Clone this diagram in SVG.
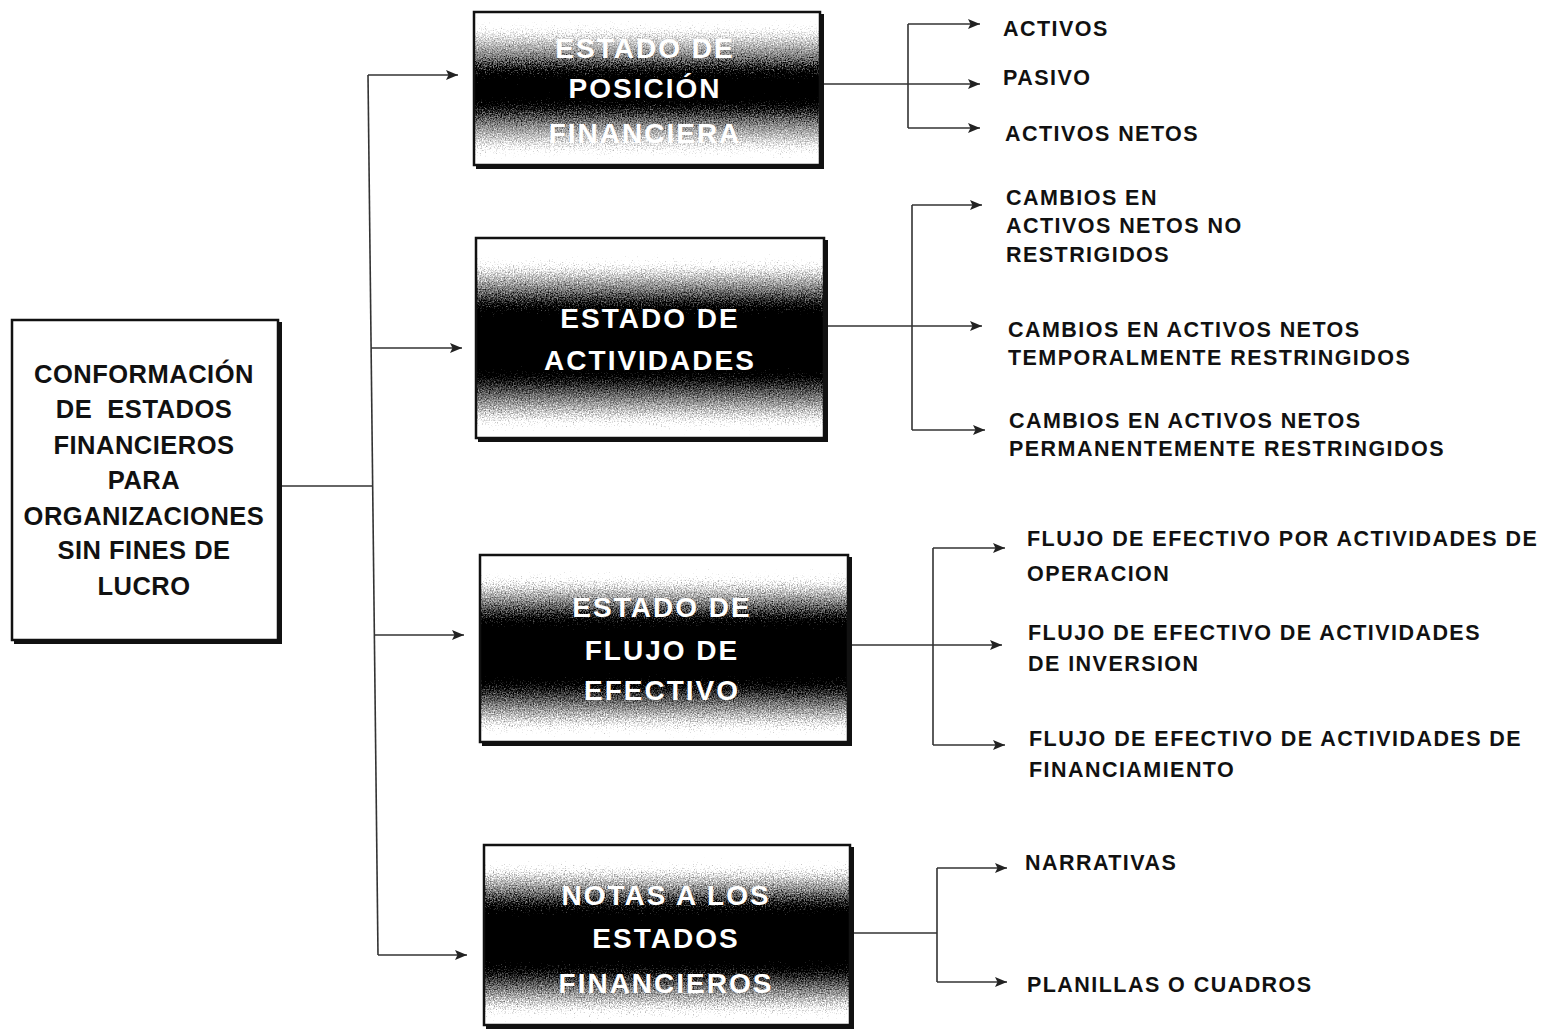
<svg xmlns="http://www.w3.org/2000/svg" width="1543" height="1029" viewBox="0 0 1543 1029">
<style>
  .box { fill: none; stroke: #111; stroke-width: 2.5; }
  .shadow { fill: none; stroke: #111; stroke-width: 4; }
  .lt { font-family: "Liberation Sans", Arial, sans-serif; font-weight: bold; font-size: 25.5px; fill: #111; text-anchor: middle; letter-spacing: 0.5px; }
  .bt { font-family: "Liberation Sans", Arial, sans-serif; font-weight: bold; font-size: 28px; fill: #fff; text-anchor: middle; letter-spacing: 2px; }
  .rt { font-family: "Liberation Sans", Arial, sans-serif; font-weight: bold; font-size: 21.5px; fill: #111; letter-spacing: 1.45px; }
  .ln { fill: none; stroke: #333; stroke-width: 1.6; }
  .ar { fill: none; stroke: #333; stroke-width: 1.6; marker-end: url(#ah); }
</style>
<defs>
  <marker id="ah" markerUnits="userSpaceOnUse" markerWidth="13" markerHeight="11" refX="12" refY="5.5" orient="auto">
    <path d="M0,0.5 L12,5.5 L0,10.5 L2.5,5.5 z" fill="#222"/>
  </marker>
  <filter id="grain" x="-5%" y="-5%" width="110%" height="110%">
    <feTurbulence type="fractalNoise" baseFrequency="0.75" numOctaves="2" seed="7" result="t"/>
    <feDisplacementMap in="SourceGraphic" in2="t" scale="42" xChannelSelector="R" yChannelSelector="G"/>
  </filter>
  <linearGradient id="g1" x1="0" y1="0" x2="0" y2="1">
    <stop offset="0" stop-color="#fff"/>
    <stop offset="0.12" stop-color="#fff"/>
    <stop offset="0.3" stop-color="#777"/>
    <stop offset="0.38" stop-color="#000"/>
    <stop offset="0.62" stop-color="#000"/>
    <stop offset="0.72" stop-color="#777"/>
    <stop offset="0.9" stop-color="#fff"/>
    <stop offset="1" stop-color="#fff"/>
  </linearGradient>
  <linearGradient id="g2" x1="0" y1="0" x2="0" y2="1">
    <stop offset="0" stop-color="#fff"/>
    <stop offset="0.14" stop-color="#fff"/>
    <stop offset="0.26" stop-color="#777"/>
    <stop offset="0.34" stop-color="#000"/>
    <stop offset="0.7" stop-color="#000"/>
    <stop offset="0.8" stop-color="#777"/>
    <stop offset="0.92" stop-color="#fff"/>
    <stop offset="1" stop-color="#fff"/>
  </linearGradient>
  <clipPath id="c1"><rect x="475" y="13" width="344" height="151"/></clipPath>
  <clipPath id="c2"><rect x="477" y="239" width="347" height="198"/></clipPath>
  <clipPath id="c3"><rect x="481" y="556" width="366" height="185"/></clipPath>
  <clipPath id="c4"><rect x="485" y="846" width="365" height="178"/></clipPath>
</defs>
<rect width="1543" height="1029" fill="#fff"/>

<g id="connectors">
  <path class="ln" d="M278,486 H373"/>
  <path class="ln" d="M368,75 L378,955"/>
  <path class="ar" d="M368,75 H458"/>
  <path class="ar" d="M371,348 H462"/>
  <path class="ar" d="M374,635 H464"/>
  <path class="ar" d="M378,955 H467"/>

  <path class="ar" d="M820,84 H980"/>
  <path class="ln" d="M908,24 V128"/>
  <path class="ar" d="M908,24 H980"/>
  <path class="ar" d="M908,128 H980"/>

  <path class="ar" d="M824,326 H982"/>
  <path class="ln" d="M912,205 V430"/>
  <path class="ar" d="M912,205 H982"/>
  <path class="ar" d="M912,430 H985"/>

  <path class="ar" d="M848,645 H1002"/>
  <path class="ln" d="M933,548 V745"/>
  <path class="ar" d="M933,548 H1005"/>
  <path class="ar" d="M933,745 H1005"/>

  <path class="ln" d="M850,933 H937"/>
  <path class="ln" d="M937,868 V982"/>
  <path class="ar" d="M937,868 H1007"/>
  <path class="ar" d="M937,982 H1007"/>
</g>

<g id="root">
  <rect class="box" x="12" y="320" width="266" height="320" fill="#fff"/>
  <path class="shadow" d="M280,322 V642 H14"/>
  <text class="lt" x="144" y="383">CONFORMACIÓN</text>
  <text class="lt" x="144" y="418" xml:space="preserve">DE  ESTADOS</text>
  <text class="lt" x="144" y="454">FINANCIEROS</text>
  <text class="lt" x="144" y="489">PARA</text>
  <text class="lt" x="144" y="525">ORGANIZACIONES</text>
  <text class="lt" x="144" y="559">SIN FINES DE</text>
  <text class="lt" x="144" y="595">LUCRO</text>
</g>

<g id="n1">
  <g clip-path="url(#c1)"><rect x="460" y="13" width="374" height="151" fill="url(#g1)" filter="url(#grain)"/></g>
  <rect class="box" x="474" y="12" width="346" height="153"/>
  <path class="shadow" d="M822,14 V167 H476"/>
  <text class="bt" x="645" y="58">ESTADO DE</text>
  <text class="bt" x="645" y="98">POSICIÓN</text>
  <text class="bt" x="645" y="143">FINANCIERA</text>
</g>

<g id="n2">
  <g clip-path="url(#c2)"><rect x="462" y="239" width="377" height="198" fill="url(#g2)" filter="url(#grain)"/></g>
  <rect class="box" x="476" y="238" width="348" height="200"/>
  <path class="shadow" d="M826,240 V440 H478"/>
  <text class="bt" x="650" y="328">ESTADO DE</text>
  <text class="bt" x="650" y="370">ACTIVIDADES</text>
</g>

<g id="n3">
  <g clip-path="url(#c3)"><rect x="466" y="556" width="396" height="185" fill="url(#g2)" filter="url(#grain)"/></g>
  <rect class="box" x="480" y="555" width="368" height="187"/>
  <path class="shadow" d="M850,557 V744 H482"/>
  <text class="bt" x="662" y="617">ESTADO DE</text>
  <text class="bt" x="662" y="660">FLUJO DE</text>
  <text class="bt" x="662" y="700">EFECTIVO</text>
</g>

<g id="n4">
  <g clip-path="url(#c4)"><rect x="470" y="846" width="395" height="178" fill="url(#g2)" filter="url(#grain)"/></g>
  <rect class="box" x="484" y="845" width="366" height="180"/>
  <path class="shadow" d="M852,847 V1027 H486"/>
  <text class="bt" x="666" y="905">NOTAS A LOS</text>
  <text class="bt" x="666" y="948">ESTADOS</text>
  <text class="bt" x="666" y="993">FINANCIEROS</text>
</g>

<g id="leaves">
  <text class="rt" x="1003" y="36">ACTIVOS</text>
  <text class="rt" x="1003" y="85">PASIVO</text>
  <text class="rt" x="1005" y="141">ACTIVOS NETOS</text>
  <text class="rt" x="1006" y="205">CAMBIOS EN</text>
  <text class="rt" x="1006" y="233">ACTIVOS NETOS NO</text>
  <text class="rt" x="1006" y="262">RESTRIGIDOS</text>
  <text class="rt" x="1008" y="337">CAMBIOS EN ACTIVOS NETOS</text>
  <text class="rt" x="1008" y="365">TEMPORALMENTE RESTRINGIDOS</text>
  <text class="rt" x="1009" y="428">CAMBIOS EN ACTIVOS NETOS</text>
  <text class="rt" x="1009" y="456">PERMANENTEMENTE RESTRINGIDOS</text>
  <text class="rt" x="1027" y="546">FLUJO DE EFECTIVO POR ACTIVIDADES DE</text>
  <text class="rt" x="1027" y="581">OPERACION</text>
  <text class="rt" x="1028" y="640">FLUJO DE EFECTIVO DE ACTIVIDADES</text>
  <text class="rt" x="1028" y="671">DE INVERSION</text>
  <text class="rt" x="1029" y="746">FLUJO DE EFECTIVO DE ACTIVIDADES DE</text>
  <text class="rt" x="1029" y="777">FINANCIAMIENTO</text>
  <text class="rt" x="1025" y="870">NARRATIVAS</text>
  <text class="rt" x="1027" y="992">PLANILLAS O CUADROS</text>
</g>
</svg>
